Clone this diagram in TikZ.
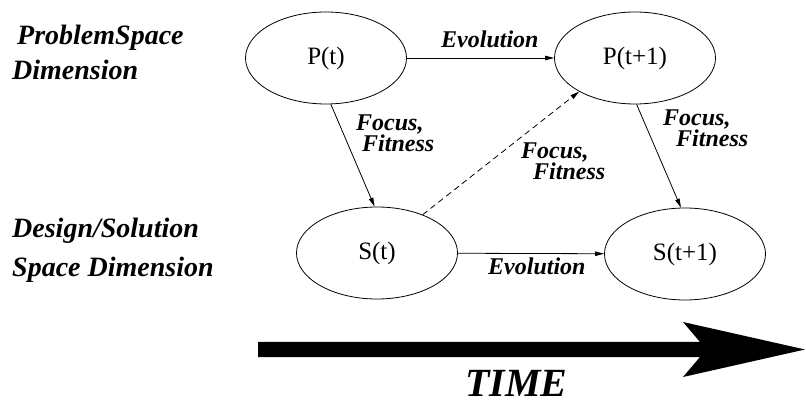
\documentclass[tikz,border=0pt]{standalone}
\usepackage{fontspec}
\setmainfont{Liberation Serif}
\usetikzlibrary{shapes.geometric,arrows.meta}
\tikzset{
  state/.style={ellipse,draw,line width=0.8pt,minimum width=161pt,minimum height=92pt,inner sep=0pt,font=\fontsize{25}{30}\selectfont},
  lbl/.style={anchor=base west,inner sep=0pt,font=\fontsize{28}{34}\selectfont\bfseries\itshape},
  elbl/.style={anchor=base west,inner sep=0pt,font=\fontsize{24}{28}\selectfont\bfseries\itshape},
  conn/.style={line width=0.8pt,-{Triangle[length=9pt,width=4.5pt]}},
}
\begin{document}
\begin{tikzpicture}[x=1pt,y=-1pt]
\useasboundingbox (0,0) rectangle (806,403);
% states
\node[state] (Pt)  at (326,58)  {P(t)};
\node[state] (Pt1) at (635,58)  {P(t+1)};
\node[state] (St)  at (377,253) {S(t)};
\node[state] (St1) at (685,254) {S(t+1)};
% connectors
\draw[conn] (Pt) -- (Pt1);
\draw[conn] (St) -- (St1);
\draw[conn] (Pt.-84) -- (St.93);
\draw[conn] (Pt1.-88) -- (St1.95);
\draw[conn,dash pattern=on 6pt off 4pt] (St.40) -- (Pt1.211);
% side labels
\node[lbl] (l1) at (17,45) {ProblemSpace};
\node[lbl] (l2) at (12,80) {Dimension};
\node[lbl] (l3) at (12,238) {Design/Solution};
\node[lbl] (l4) at (12,277) {Space Dimension};
% edge labels
\node[elbl] (e1) at (441,48) {Evolution};
\node[elbl] (e2) at (488,275) {Evolution};
\node[elbl] (f1a) at (356,131) {Focus,};
\node[elbl] (f1b) at (362,152) {Fitness};
\node[elbl] (f2a) at (521,159) {Focus,};
\node[elbl] (f2b) at (533,180) {Fitness};
\node[elbl] (f3a) at (663,126) {Focus,};
\node[elbl] (f3b) at (676,147) {Fitness};
% time arrow
\fill (258,342) -- (700,342) -- (683,322) -- (805,349.5) -- (683,377) -- (700,357) -- (258,357) -- cycle;
\node[anchor=base west,inner sep=0pt,font=\fontsize{40}{48}\selectfont\bfseries\itshape] (time) at (465,396) {TIME};
\end{tikzpicture}
\end{document}
